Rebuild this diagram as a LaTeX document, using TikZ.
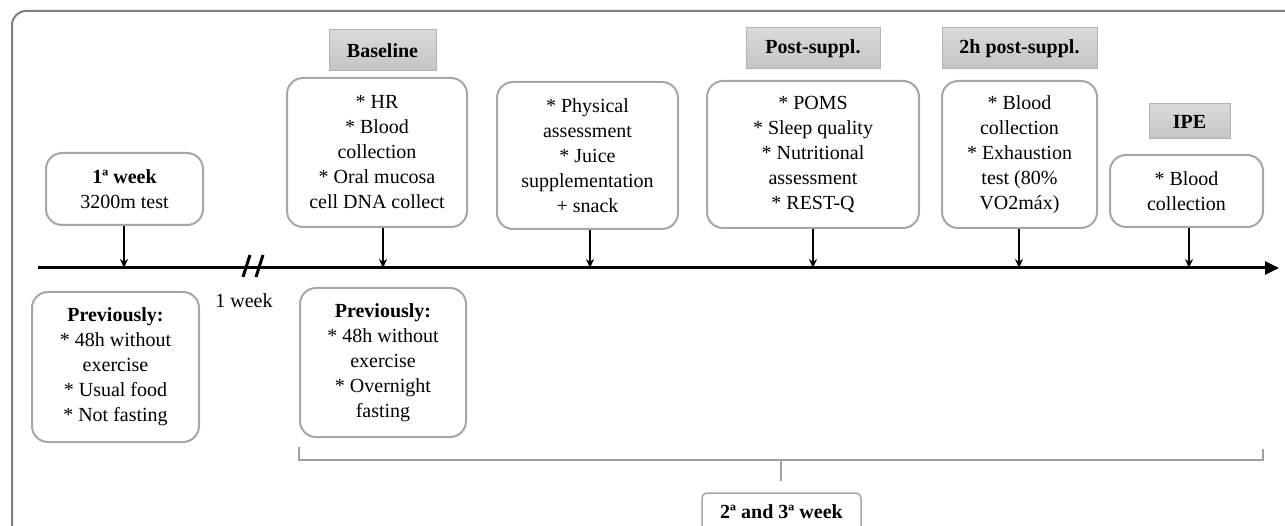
\documentclass[tikz,border=0pt]{standalone}
\usepackage{fontspec}
\setmainfont{Liberation Serif}
\usetikzlibrary{arrows.meta}
\definecolor{boxgray}{RGB}{166,166,166}
\definecolor{hdrline}{RGB}{178,178,178}
\definecolor{hdrtop}{RGB}{218,218,218}
\definecolor{hdrbot}{RGB}{196,196,196}
\definecolor{framegray}{RGB}{127,127,127}
\definecolor{brkgray}{RGB}{160,160,160}
\begin{document}
\begin{tikzpicture}[x=1pt,y=-1pt,
  txt/.style={font=\fontsize{20}{25}\selectfont},
  evbox/.style={txt, draw=boxgray, line width=2pt, rounded corners=16pt, align=center, inner sep=0pt, fill=white},
  hdr/.style={txt, font=\fontsize{20}{25}\selectfont\bfseries, draw=hdrline, line width=1pt, top color=hdrtop, bottom color=hdrbot, inner sep=0pt},
  arr/.style={-{Stealth[length=9pt,width=8pt]}, line width=1.8pt},
]
\useasboundingbox (0,0) rectangle (1285,526);
% outer frame
\draw[framegray, line width=2pt, rounded corners=14pt] (12,560) -- (12,11) -- (1320,11);

% axis
\coordinate (ax0) at (38,268);
\coordinate (ax1) at (1279,268);
\draw[line width=3pt, -{Triangle[length=14pt,width=13pt]}] (ax0) -- (ax1);

% time points on axis
\coordinate (t1) at (124,268);
\coordinate (t2) at (383,268);
\coordinate (t3) at (590,268);
\coordinate (t4) at (813,268);
\coordinate (t5) at (1019,268);
\coordinate (t6) at (1189,268);

% break mark
\coordinate (b1a) at (250,255);
\coordinate (b1b) at (243,277);
\coordinate (b2a) at (263,255);
\coordinate (b2b) at (256,277);
\draw[line width=3pt] (b1a) -- (b1b);
\draw[line width=3pt] (b2a) -- (b2b);
\node[txt, inner sep=0pt] (oneweek) at (244,301) {1 week};

% headers
\node[hdr, minimum width=107pt, minimum height=41pt] (hbase) at (382.5,50.5) {Baseline};
\node[hdr, minimum width=134pt, minimum height=41pt] (hpost) at (813,48.5) {Post-suppl.};
\node[hdr, minimum width=155pt, minimum height=41pt] (h2h) at (1019.5,48.5) {2h post-suppl.};
\node[hdr, minimum width=81pt, minimum height=35pt] (hipe) at (1189.5,121.5) {IPE};

% event boxes
\node[evbox, minimum width=157pt, minimum height=72pt] (wk1) at (124.5,189) {\textbf{1ª week}\\3200m test};
\node[evbox, minimum width=180pt, minimum height=149pt] (base) at (377,152.5) {* HR\\* Blood\\collection\\* Oral mucosa\\cell DNA collect};
\node[evbox, minimum width=181pt, minimum height=147pt] (phys) at (587.5,155.5) {* Physical\\assessment\\* Juice\\supplementation\\+ snack};
\node[evbox, minimum width=212pt, minimum height=147pt] (poms) at (813,154.5) {* POMS\\* Sleep quality\\* Nutritional\\assessment\\* REST-Q};
\node[evbox, minimum width=155pt, minimum height=147pt] (blood2h) at (1019.5,154.5) {* Blood\\collection\\* Exhaustion\\test (80\%\\VO2máx)};
\node[evbox, minimum width=153pt, minimum height=72pt] (ipe) at (1186.5,191) {* Blood\\collection};

% previously boxes
\node[evbox, minimum width=167pt, minimum height=150pt] (prev1) at (115.5,367) {\textbf{Previously:}\\* 48h without\\exercise\\* Usual food\\* Not fasting};
\node[evbox, minimum width=166pt, minimum height=149pt] (prev2) at (383,362.5) {\textbf{Previously:}\\* 48h without\\exercise\\* Overnight\\fasting};

% arrows to axis
\draw[arr] (wk1.south -| t1) -- (t1);
\draw[arr] (base.south -| t2) -- (t2);
\draw[arr] (phys.south -| t3) -- (t3);
\draw[arr] (poms.south -| t4) -- (t4);
\draw[arr] (blood2h.south -| t5) -- (t5);
\draw[arr] (ipe.south -| t6) -- (t6);

% bracket and weeks label
\node[txt, font=\fontsize{20}{25}\selectfont\bfseries, draw=boxgray, line width=1.5pt, rounded corners=5pt, minimum width=159pt, minimum height=38pt, inner sep=0pt] (week) at (781.5,512) {2ª and 3ª week};
\coordinate (brL) at (299,447);
\coordinate (brR) at (1263,449);
\coordinate (brM) at (781,460);
\draw[brkgray, line width=2pt] (brL) -- (brL |- brM) -- (brR |- brM) -- (brR);
\draw[brkgray, line width=2pt] (brM) -- ([yshift=11pt]week.north -| brM);
\end{tikzpicture}
\end{document}
